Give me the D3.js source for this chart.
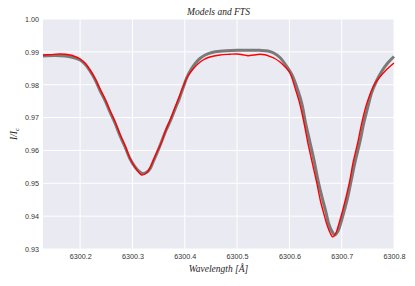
<!DOCTYPE html>
<html>
<head>
<meta charset="utf-8">
<script src="https://cdn.jsdelivr.net/npm/d3@7"></script>
<style>
  body { margin: 0; background: #fff; }
  .tick text { font-family: "Liberation Sans", Arial, sans-serif; font-size: 7.2px; fill: #333; }
</style>
</head>
<body>
<div id="chart"></div>
<script>
// FTS atlas (red)
const ftsWave = [6300.129, 6300.143, 6300.162, 6300.181, 6300.190, 6300.200, 6300.210, 6300.219,
  6300.229, 6300.238, 6300.248, 6300.257, 6300.267, 6300.276, 6300.286, 6300.295, 6300.305,
  6300.313, 6300.318, 6300.324, 6300.330, 6300.337, 6300.345, 6300.355, 6300.362, 6300.372,
  6300.381, 6300.387, 6300.397, 6300.406, 6300.416, 6300.425, 6300.435, 6300.448, 6300.467,
  6300.486, 6300.500, 6300.511, 6300.521, 6300.532, 6300.544, 6300.553, 6300.563, 6300.572,
  6300.582, 6300.591, 6300.601, 6300.612, 6300.620, 6300.628, 6300.635, 6300.643, 6300.652,
  6300.659, 6300.666, 6300.672, 6300.678, 6300.683, 6300.689, 6300.694, 6300.700, 6300.707,
  6300.715, 6300.722, 6300.731, 6300.738, 6300.746, 6300.754, 6300.763, 6300.773, 6300.786,
  6300.800];
const ftsValue = [0.98904, 0.98917, 0.98935, 0.98904, 0.98859, 0.98783, 0.98646, 0.98448,
  0.98174, 0.97870, 0.97550, 0.97216, 0.96866, 0.96500, 0.96135, 0.95770, 0.95481,
  0.95314, 0.95253, 0.95283, 0.95374, 0.95587, 0.95892, 0.96226, 0.96546, 0.96926,
  0.97292, 0.97535, 0.97946, 0.98265, 0.98478, 0.98631, 0.98752, 0.98844, 0.98904,
  0.98926, 0.98935, 0.98911, 0.98883, 0.98904, 0.98926, 0.98911, 0.98859, 0.98798,
  0.98691, 0.98554, 0.98357, 0.97839, 0.97413, 0.96835, 0.96257, 0.95679, 0.95040,
  0.94492, 0.94066, 0.93731, 0.93488, 0.93366, 0.93488, 0.93731, 0.94066, 0.94492,
  0.95040, 0.95648, 0.96257, 0.96805, 0.97322, 0.97702, 0.98022, 0.98235, 0.98463,
  0.98661];

// synthetic model (grey)
const modelWave = [6300.129, 6300.152, 6300.171, 6300.190, 6300.200, 6300.210, 6300.219,
  6300.229, 6300.238, 6300.248, 6300.257, 6300.267, 6300.276, 6300.286, 6300.295, 6300.305,
  6300.313, 6300.320, 6300.328, 6300.334, 6300.339, 6300.347, 6300.355, 6300.364, 6300.374,
  6300.383, 6300.389, 6300.397, 6300.404, 6300.412, 6300.420, 6300.429, 6300.439, 6300.452,
  6300.467, 6300.500, 6300.525, 6300.544, 6300.559, 6300.570, 6300.582, 6300.593, 6300.605,
  6300.616, 6300.624, 6300.631, 6300.639, 6300.647, 6300.655, 6300.663, 6300.670, 6300.675,
  6300.681, 6300.687, 6300.693, 6300.698, 6300.704, 6300.711, 6300.718, 6300.726, 6300.735,
  6300.742, 6300.750, 6300.757, 6300.767, 6300.777, 6300.788, 6300.800];
const modelValue = [0.98874, 0.98889, 0.98874, 0.98813, 0.98752, 0.98615, 0.98418,
  0.98144, 0.97824, 0.97505, 0.97170, 0.96820, 0.96455, 0.96105, 0.95755, 0.95496,
  0.95359, 0.95298, 0.95344, 0.95451, 0.95633, 0.95922, 0.96242, 0.96607, 0.96957,
  0.97322, 0.97550, 0.97915, 0.98220, 0.98463, 0.98646, 0.98798, 0.98904, 0.98981,
  0.99020, 0.99047, 0.99051, 0.99047, 0.99026, 0.98965, 0.98828, 0.98600, 0.98296,
  0.97839, 0.97413, 0.96835, 0.96272, 0.95709, 0.95070, 0.94538, 0.94112, 0.93777,
  0.93549, 0.93427, 0.93549, 0.93777, 0.94112, 0.94538, 0.95070, 0.95679, 0.96272,
  0.96820, 0.97322, 0.97748, 0.98129, 0.98418, 0.98661, 0.98859];

const xTicks = [6300.2, 6300.3, 6300.4, 6300.5, 6300.6, 6300.7, 6300.8];
const yTicks = [0.93, 0.94, 0.95, 0.96, 0.97, 0.98, 0.99, 1.00];

const width = 415;
const height = 286;
const margin = { top: 19, right: 21, bottom: 37, left: 43 };

const svg = d3
  .select("#chart")
  .append("svg")
  .attr("width", width)
  .attr("height", height);

const innerW = width - margin.left - margin.right;
const innerH = height - margin.top - margin.bottom;

const chart = svg
  .append("g")
  .attr("transform", `translate(${margin.left}, ${margin.top})`);

const xScale = d3.scaleLinear().domain([6300.129, 6300.8]).range([0, innerW]);
const yScale = d3.scaleLinear().domain([0.93, 1.0]).range([innerH, 0]);

chart
  .append("rect")
  .attr("width", innerW)
  .attr("height", innerH)
  .attr("fill", "#eaeaf2");

// grid
chart
  .append("g")
  .selectAll("line")
  .data(xTicks)
  .enter()
  .append("line")
  .attr("x1", d => xScale(d))
  .attr("x2", d => xScale(d))
  .attr("y1", 0)
  .attr("y2", innerH)
  .attr("stroke", "#fff")
  .attr("stroke-width", 1);

chart
  .append("g")
  .selectAll("line")
  .data(yTicks)
  .enter()
  .append("line")
  .attr("x1", 0)
  .attr("x2", innerW)
  .attr("y1", d => yScale(d))
  .attr("y2", d => yScale(d))
  .attr("stroke", "#fff")
  .attr("stroke-width", 1);

// axes (labels only)
const xAxis = chart
  .append("g")
  .attr("transform", `translate(0, ${innerH})`)
  .call(d3.axisBottom(xScale).tickValues(xTicks).tickFormat(d3.format(".1f")).tickSize(0).tickPadding(5));
xAxis.select(".domain").remove();

const yAxis = chart
  .append("g")
  .call(d3.axisLeft(yScale).tickValues(yTicks).tickFormat(d3.format(".2f")).tickSize(0).tickPadding(4));
yAxis.select(".domain").remove();

const line = d3
  .line()
  .x(d => xScale(d[0]))
  .y(d => yScale(d[1]))
  .curve(d3.curveCatmullRom.alpha(0.5));

chart
  .append("path")
  .datum(d3.zip(modelWave, modelValue))
  .attr("d", line)
  .attr("fill", "none")
  .attr("stroke", "#7a7a7a")
  .attr("stroke-width", 3);

chart
  .append("path")
  .datum(d3.zip(ftsWave, ftsValue))
  .attr("d", line)
  .attr("fill", "none")
  .attr("stroke", "#ff0000")
  .attr("stroke-width", 1.4);

// title and labels
svg
  .append("text")
  .attr("x", margin.left + innerW / 2)
  .attr("y", 15)
  .attr("text-anchor", "middle")
  .style("font-family", "'Liberation Serif', serif")
  .style("font-style", "italic")
  .style("font-size", "9.5px")
  .style("fill", "#262626")
  .text("Models and FTS");

svg
  .append("text")
  .attr("x", margin.left + innerW / 2)
  .attr("y", 272)
  .attr("text-anchor", "middle")
  .style("font-family", "'Liberation Serif', serif")
  .style("font-style", "italic")
  .style("font-size", "9.5px")
  .style("fill", "#262626")
  .text("Wavelength [Å]");

const yLabel = svg
  .append("text")
  .attr("transform", `translate(17, ${margin.top + innerH / 2}) rotate(-90)`)
  .attr("text-anchor", "middle")
  .style("font-family", "'Liberation Serif', serif")
  .style("font-style", "italic")
  .style("font-size", "9.5px")
  .style("fill", "#262626");
yLabel.append("tspan").text("I/I");
yLabel.append("tspan").attr("dy", 2).style("font-size", "7px").text("c");
</script>
</body>
</html>
